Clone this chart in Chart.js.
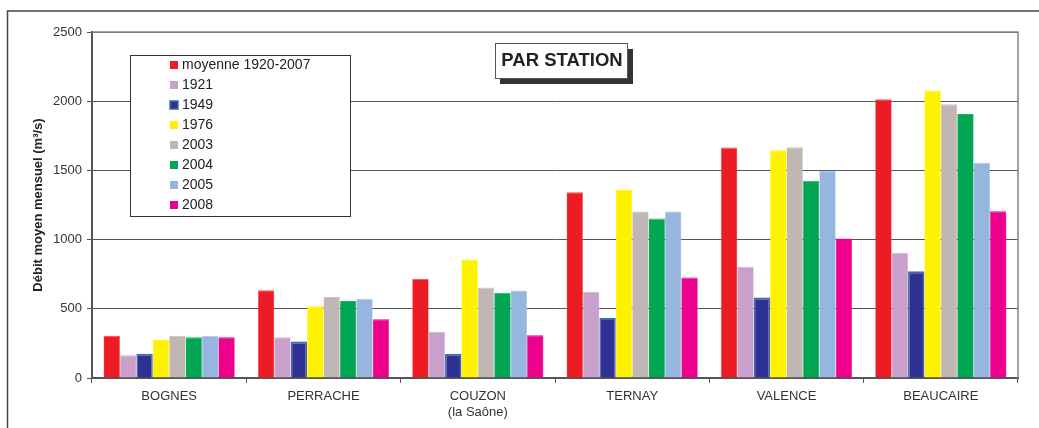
<!DOCTYPE html>
<html>
<head>
<meta charset="utf-8">
<script src="https://cdn.jsdelivr.net/npm/chart.js@4.4.1/dist/chart.umd.min.js"></script>
<style>
  html, body { margin: 0; padding: 0; background: #fff; }
  #wrap { position: relative; width: 1039px; height: 428px; }
</style>
</head>
<body>
<div id="wrap"><canvas id="debitChart" width="1039" height="428"></canvas></div>
<script>
// stations
const stations = ['BOGNES', 'PERRACHE', ['COUZON', '(la Saône)'], 'TERNAY', 'VALENCE', 'BEAUCAIRE'];

// débit moyen mensuel (m3/s) par série
const moyenne = [305, 634, 717, 1343, 1665, 2014];
const y1921 = [165, 294, 335, 623, 803, 905];
const y1949 = [176, 263, 176, 433, 581, 772];
const y1976 = [277, 518, 857, 1361, 1645, 2077];
const y2003 = [306, 585, 654, 1203, 1667, 1978];
const y2004 = [294, 556, 616, 1153, 1426, 1908];
const y2005 = [306, 573, 633, 1203, 1498, 1556];
const y2008 = [294, 424, 308, 727, 1008, 1204];

const seriesLabels = ['moyenne 1920-2007', '1921', '1949', '1976', '2003', '2004', '2005', '2008'];
const yTicks = [0, 500, 1000, 1500, 2000, 2500];
const yTitle = 'Débit moyen mensuel (m³/s)';

const colors = ['#ED1C24', '#C9A0CB', '#2E3192', '#FFF200', '#C0B7B4', '#00A651', '#95B6DE', '#EC008C'];
const borders = ['#F04A50', '#D4B3D5', '#4468B0', '#FFF200', '#CCC4C1', '#22B066', '#A9C4E6', '#EC008C'];

const allData = [moyenne, y1921, y1949, y1976, y2003, y2004, y2005, y2008];

const FONT = '"Liberation Sans", Arial, sans-serif';

// legend box + title box + frame, drawn by hand
const decor = {
  id: 'decor',
  afterDraw(chart) {
    const ctx = chart.ctx;
    const a = chart.chartArea;
    ctx.save();
    // outer frame
    ctx.strokeStyle = '#444';
    ctx.lineWidth = 1.5;
    ctx.beginPath();
    ctx.moveTo(7.5, 430);
    ctx.lineTo(7.5, 11);
    ctx.lineTo(1040, 11);
    ctx.stroke();
    // plot top & right border
    ctx.strokeStyle = '#8d8383';
    ctx.lineWidth = 1.5;
    ctx.beginPath();
    ctx.moveTo(a.left, a.top);
    ctx.lineTo(a.right, a.top);
    ctx.lineTo(a.right, a.bottom);
    ctx.stroke();

    // y axis title
    ctx.save();
    ctx.translate(38, (a.top + a.bottom) / 2 + 0);
    ctx.rotate(-Math.PI / 2);
    ctx.fillStyle = '#222';
    ctx.font = 'bold 13px ' + FONT;
    ctx.textAlign = 'center';
    ctx.textBaseline = 'middle';
    ctx.fillText(yTitle, 0, 0);
    ctx.restore();

    // legend
    ctx.fillStyle = '#fff';
    ctx.fillRect(130.5, 55.5, 220, 161);
    ctx.strokeStyle = '#333';
    ctx.lineWidth = 1;
    ctx.strokeRect(130.5, 55.5, 220, 161);
    ctx.font = '14px ' + FONT;
    ctx.textBaseline = 'middle';
    chart.data.datasets.forEach((ds, i) => {
      const y = 65 + i * 20;
      ctx.fillStyle = ds.backgroundColor;
      ctx.fillRect(170, y - 4, 8, 8);
      if (i === 2) {
        ctx.strokeStyle = '#4468B0';
        ctx.lineWidth = 1.5;
        ctx.strokeRect(170, y - 4, 8, 8);
      }
      ctx.fillStyle = '#222';
      ctx.fillText(ds.label, 182, y + 0.5);
    });

    // title box with shadow
    ctx.fillStyle = '#333';
    ctx.fillRect(500, 49, 133, 35);
    ctx.fillStyle = '#fff';
    ctx.fillRect(495, 43.5, 133, 35);
    ctx.strokeStyle = '#555';
    ctx.lineWidth = 1;
    ctx.strokeRect(495.5, 43.5, 132, 35);
    ctx.fillStyle = '#222';
    ctx.font = 'bold 18.5px ' + FONT;
    ctx.textAlign = 'center';
    ctx.fillText('PAR STATION', 562, 61);
    ctx.restore();
  }
};

new Chart(document.getElementById('debitChart'), {
  type: 'bar',
  data: {
    labels: stations,
    datasets: seriesLabels.map((lab, i) => ({
      label: lab,
      data: allData[i],
      backgroundColor: colors[i],
      borderColor: borders[i],
      borderWidth: i === 2 ? { top: 2, left: 1.5, right: 1.5, bottom: 0 } : { top: 1, left: 0.5, right: 0.5, bottom: 0 },
      borderSkipped: 'bottom',
      categoryPercentage: 0.85,
      barPercentage: 1.0
    }))
  },
  options: {
    responsive: false,
    animation: false,
    layout: { padding: { top: 32, right: 21, left: 0, bottom: 0 } },
    plugins: {
      legend: { display: false },
      tooltip: { enabled: false }
    },
    scales: {
      x: {
        afterFit(s) { s.height = 50; },
        grid: {
          offset: true,
          drawOnChartArea: false,
          drawTicks: true,
          tickLength: 5,
          color: '#555'
        },
        border: { color: '#555', width: 2 },
        ticks: {
          color: '#333',
          font: { family: FONT, size: 13 },
          padding: 6,
          maxRotation: 0
        }
      },
      y: {
        min: 0,
        max: 2500,
        afterFit(s) { s.width = 92; },
        afterBuildTicks(s) { s.ticks = yTicks.map(v => ({ value: v })); },
        grid: {
          color: '#555',
          lineWidth: 1,
          tickLength: 5,
          drawTicks: true
        },
        border: { color: '#555', width: 2 },
        ticks: {
          color: '#333',
          font: { family: FONT, size: 13 },
          padding: 5,
          callback: v => String(v)
        }
      }
    }
  },
  plugins: [decor]
});
</script>
</body>
</html>
